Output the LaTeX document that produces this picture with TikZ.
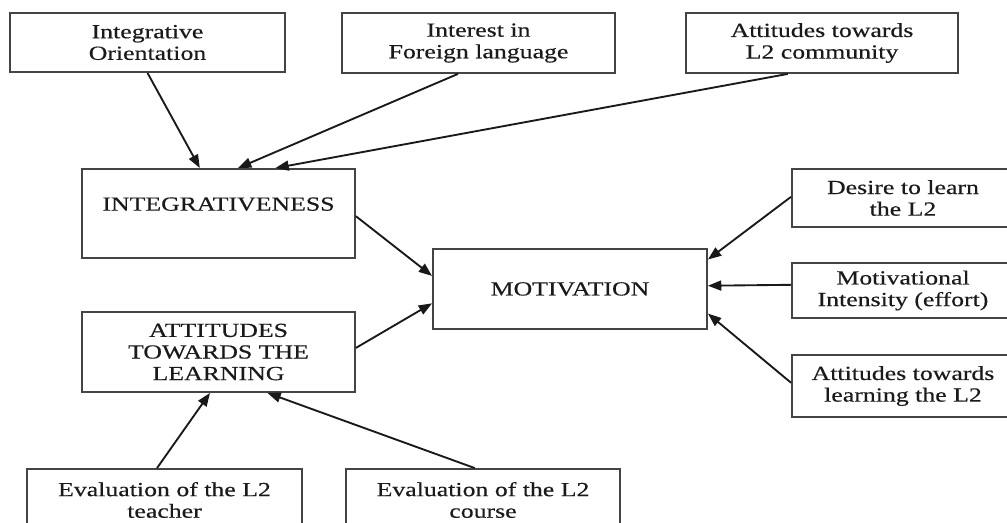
\documentclass[tikz,border=0pt]{standalone}
\usepackage{fontspec}
\setmainfont{Liberation Serif}[FakeStretch=1.29, FakeBold=0.4]
\usetikzlibrary{arrows.meta,calc}

\definecolor{inkc}{HTML}{1A1A1A}
\definecolor{framec}{HTML}{444444}

\tikzset{
  box/.style 2 args={draw=framec, line width=1.4pt, rectangle, inner sep=0pt,
    minimum width=#1, minimum height=#2, align=center, text=inkc,
    font=\fontsize{15}{16.2}\selectfont},
  arr/.style={draw=black!90, line width=1.4pt, -{Triangle[length=10pt,width=7.5pt]}}
}

\begin{document}
\begin{tikzpicture}[x=0.75pt, y=-0.75pt]
\useasboundingbox (0,0) rectangle (1007,523);

% top row: sources of integrativeness
\node[box={206.25pt}{44.25pt}] (io)        at (147.5,42.5) {Integrative\\Orientation};
\node[box={204.75pt}{45pt}]    (interest)  at (478.5,43)   {Interest in\\Foreign language};
\node[box={204pt}{45pt}]       (community) at (822,43)     {Attitudes towards\\L2 community};

% left column
\node[box={204.75pt}{66.75pt}] (integ) at (218.5,213.5) {INTEGRATIVENESS\\[-2pt]\mbox{}};
\node[box={204.75pt}{60pt}]    (att)   at (218.5,352)   {ATTITUDES\\TOWARDS THE\\LEARNING};

% centre
\node[box={205.5pt}{60pt}] (mot) at (570,289) {MOTIVATION};

% right column
\node[box={166.5pt}{43.5pt}]  (desire)    at (903,198)   {Desire to learn\\the L2};
\node[box={166.5pt}{41.25pt}] (intensity) at (903,290.5) {Motivational\\Intensity (effort)};
\node[box={166.5pt}{46.5pt}]  (attl2)     at (903,386)   {Attitudes towards\\learning the L2};

% bottom row
\node[box={206.25pt}{46.5pt}] (teacher) at (164.5,500) {Evaluation of the L2\\teacher};
\node[box={205.5pt}{46.5pt}]  (course)  at (483,500)   {Evaluation of the L2\\course};

% into integrativeness
\draw[arr] (io.south) -- ($(integ.north west)!0.432!(integ.north east)$);
\draw[arr] ($(interest.south west)!0.425!(interest.south east)$) -- ($(integ.north west)!0.571!(integ.north east)$);
\draw[arr] ($(community.south west)!0.375!(community.south east)$) -- ($(integ.north west)!0.707!(integ.north east)$);

% into motivation from the left
\draw[arr] ($(integ.north east)!0.53!(integ.south east)$) -- ($(mot.north west)!0.34!(mot.south west)$);
\draw[arr] ($(att.north east)!0.45!(att.south east)$) -- ($(mot.north west)!0.675!(mot.south west)$);

% into motivation from the right
\draw[arr] ($(desire.north west)!0.48!(desire.south west)$) -- ($(mot.north east)!0.14!(mot.south east)$);
\draw[arr] ($(intensity.north west)!0.4!(intensity.south west)$) -- ($(mot.north east)!0.46!(mot.south east)$);
\draw[arr] ($(attl2.north west)!0.45!(attl2.south west)$) -- ($(mot.north east)!0.8!(mot.south east)$);

% into attitudes towards the learning
\draw[arr] ($(teacher.north west)!0.473!(teacher.north east)$) -- ($(att.south west)!0.469!(att.south east)$);
\draw[arr] ($(course.north west)!0.47!(course.north east)$) -- ($(att.south west)!0.678!(att.south east)$);
\end{tikzpicture}
\end{document}
